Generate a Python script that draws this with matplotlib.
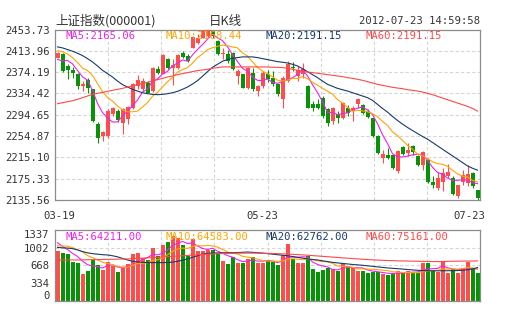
import numpy as np
import pandas as pd
import matplotlib
matplotlib.use('Agg')
import matplotlib.pyplot as plt

# 上证指数 日K 2012-03-19 ~ 2012-07-23 (85个交易日)
opens = [2401.3, 2407.6, 2385.7, 2377.6, 2370.1, 2348.3, 2358.9, 2342.0, 2276.5, 2254.7,
         2254.7, 2296.5, 2301.5, 2279.6, 2285.9, 2307.7, 2348.3, 2342.0, 2354.5, 2338.9,
         2379.5, 2371.4, 2398.2, 2381.4, 2381.4, 2410.7, 2404.4, 2420.0, 2429.4, 2438.8,
         2441.9, 2451.2, 2432.5, 2408.8, 2407.6, 2410.7, 2367.0, 2370.1, 2345.2, 2373.2,
         2338.9, 2348.3, 2370.1, 2363.9, 2351.4, 2323.3, 2357.7, 2383.9, 2367.0, 2370.1,
         2348.3, 2314.0, 2315.2, 2326.4, 2304.6, 2282.8, 2296.5, 2289.0, 2307.7, 2301.5,
         2315.2, 2312.7, 2300.2, 2287.8, 2254.7, 2214.1, 2220.4, 2220.4, 2189.2, 2234.1,
         2223.5, 2236.0, 2218.5, 2201.7, 2211.0, 2168.6, 2158.0, 2169.2, 2179.8, 2176.7,
         2142.4, 2169.2, 2167.3, 2186.1, 2153.6]
highs = [2412.6, 2410.7, 2390.1, 2383.9, 2373.2, 2357.7, 2363.9, 2343.3, 2280.9, 2264.1,
         2304.6, 2309.6, 2304.6, 2307.7, 2310.9, 2354.5, 2368.3, 2363.9, 2357.7, 2383.9,
         2385.7, 2407.6, 2401.3, 2398.2, 2407.6, 2413.8, 2407.6, 2441.9, 2445.0, 2453.7,
         2453.7, 2453.7, 2433.8, 2418.8, 2415.0, 2412.6, 2379.5, 2371.4, 2383.9, 2382.6,
         2350.2, 2376.4, 2377.6, 2376.4, 2352.6, 2367.0, 2395.1, 2393.2, 2385.7, 2392.0,
         2350.2, 2320.2, 2323.3, 2329.6, 2307.7, 2309.0, 2301.5, 2319.0, 2312.7, 2310.9,
         2326.4, 2315.2, 2304.6, 2289.0, 2256.6, 2229.7, 2232.9, 2221.6, 2229.7, 2236.0,
         2242.2, 2239.1, 2220.4, 2226.6, 2214.1, 2179.8, 2188.0, 2195.4, 2202.9, 2179.8,
         2164.2, 2192.3, 2201.7, 2187.3, 2154.9]
lows = [2400.1, 2375.1, 2360.8, 2363.9, 2342.0, 2338.9, 2335.8, 2281.5, 2241.0, 2245.3,
        2251.6, 2292.1, 2281.5, 2257.8, 2276.5, 2304.6, 2342.0, 2338.9, 2334.6, 2337.7,
        2370.1, 2370.1, 2379.5, 2350.2, 2379.5, 2401.3, 2393.8, 2418.8, 2426.3, 2437.5,
        2440.0, 2438.8, 2406.3, 2398.2, 2392.0, 2377.6, 2351.4, 2343.9, 2342.0, 2338.9,
        2329.6, 2345.2, 2356.4, 2348.3, 2329.6, 2307.7, 2356.4, 2376.4, 2357.7, 2363.9,
        2306.5, 2301.5, 2304.6, 2289.0, 2273.4, 2276.5, 2279.6, 2285.9, 2292.1, 2282.8,
        2307.7, 2296.5, 2289.0, 2252.8, 2221.6, 2204.8, 2212.9, 2194.2, 2186.1, 2220.4,
        2217.3, 2220.4, 2198.6, 2192.3, 2167.3, 2158.0, 2154.9, 2151.8, 2176.7, 2145.5,
        2139.3, 2164.2, 2161.1, 2158.0, 2136.2]
closes = [2410.7, 2376.4, 2377.6, 2373.2, 2348.3, 2351.4, 2345.2, 2282.8, 2251.6, 2262.8,
          2301.5, 2306.5, 2284.0, 2305.9, 2309.6, 2351.4, 2358.9, 2357.7, 2335.8, 2381.4,
          2373.2, 2406.3, 2381.4, 2387.6, 2406.3, 2402.6, 2395.1, 2440.0, 2438.8, 2451.2,
          2452.5, 2441.9, 2407.6, 2410.7, 2395.1, 2379.5, 2376.4, 2345.2, 2382.6, 2342.0,
          2348.3, 2373.2, 2360.8, 2351.4, 2332.7, 2363.9, 2390.1, 2381.4, 2377.6, 2379.5,
          2307.7, 2307.7, 2307.7, 2292.1, 2279.6, 2307.7, 2287.8, 2317.1, 2298.4, 2307.7,
          2323.3, 2298.4, 2290.3, 2254.7, 2223.5, 2221.6, 2214.1, 2195.4, 2226.6, 2221.6,
          2229.7, 2225.4, 2200.4, 2224.8, 2169.2, 2163.0, 2176.7, 2186.1, 2188.0, 2147.4,
          2163.0, 2182.9, 2184.2, 2161.1, 2139.3]
volumes = [939, 901, 888, 737, 718, 504, 561, 769, 674, 580,
           731, 655, 536, 611, 699, 888, 907, 800, 775, 1002,
           851, 1052, 1109, 1222, 1178, 1052, 844, 1166, 939, 939,
           958, 958, 895, 750, 699, 819, 718, 718, 781, 819,
           706, 718, 769, 737, 674, 863, 1071, 781, 718, 718,
           844, 599, 548, 580, 624, 592, 567, 706, 655, 611,
           567, 561, 517, 548, 548, 498, 485, 498, 567, 548,
           567, 517, 517, 706, 706, 580, 548, 750, 529, 592,
           517, 624, 737, 592, 517]
# 窗口之前几天, 只用来算 MA5/MA10
pre_closes = [2396, 2420, 2439, 2440, 2457, 2391, 2373, 2405, 2410]
pre_volumes = [960, 900, 1020, 1080, 950, 1250, 1180, 1100, 1010]

# MA20 / MA60 从图上读
ma20 = [2421.3, 2419.4, 2416.3, 2413.2, 2409.4, 2405.1, 2399.4, 2393.2, 2385.7, 2377.6,
        2371.4, 2365.1, 2357.6, 2350.8, 2346.4, 2342.1, 2338.9, 2335.8, 2333.9, 2332.7,
        2332.1, 2332.7, 2333.9, 2335.8, 2338.3, 2342.1, 2346.4, 2352.0, 2358.3, 2366.4,
        2375.1, 2383.2, 2388.8, 2394.5, 2397.6, 2400.1, 2401.3, 2402.6, 2402.6, 2402.6,
        2401.3, 2399.4, 2397.6, 2395.7, 2393.8, 2392.6, 2391.3, 2388.8, 2385.7, 2380.7,
        2375.1, 2369.5, 2363.9, 2357.6, 2351.4, 2347.7, 2343.9, 2341.4, 2338.9, 2335.8,
        2332.7, 2329.6, 2326.5, 2321.5, 2314.0, 2306.5, 2299.6, 2291.5, 2284.0, 2277.2,
        2270.9, 2265.3, 2259.7, 2254.1, 2249.1, 2242.9, 2236.6, 2230.4, 2224.1, 2217.9,
        2211.7, 2205.4, 2199.2, 2194.8, 2191.15]
ma60 = [2315.2, 2317.1, 2319.0, 2320.8, 2323.3, 2326.5, 2329.6, 2332.7, 2334.6, 2336.4,
        2338.3, 2340.2, 2342.1, 2343.9, 2346.4, 2348.3, 2350.8, 2353.3, 2355.2, 2357.6,
        2360.1, 2362.6, 2365.1, 2367.0, 2369.5, 2371.4, 2373.2, 2375.1, 2377.0, 2378.2,
        2379.5, 2381.4, 2382.6, 2383.9, 2383.9, 2383.9, 2383.9, 2383.9, 2383.9, 2383.9,
        2383.9, 2383.9, 2383.9, 2383.2, 2383.2, 2382.6, 2381.4, 2379.5, 2377.6, 2375.7,
        2374.5, 2373.2, 2372.0, 2370.8, 2369.5, 2368.3, 2367.0, 2365.8, 2363.9, 2362.6,
        2360.8, 2358.9, 2356.4, 2353.9, 2351.4, 2349.5, 2347.7, 2345.8, 2344.5, 2343.3,
        2341.4, 2340.2, 2338.9, 2337.1, 2334.6, 2332.1, 2329.0, 2325.8, 2322.7, 2319.6,
        2316.5, 2313.4, 2310.2, 2306.5, 2301.5]
vol_ma20 = [1008, 1000, 995, 985, 960, 930, 905, 890, 880, 870,
            865, 850, 830, 800, 770, 745, 735, 725, 720, 720,
            720, 720, 722, 730, 745, 765, 790, 820, 850, 880,
            895, 900, 903, 905, 907, 907, 910, 915, 920, 915,
            907, 900, 890, 880, 870, 860, 850, 835, 820, 805,
            790, 780, 770, 755, 740, 725, 715, 705, 695, 685,
            678, 670, 660, 650, 640, 630, 620, 612, 605, 598,
            590, 582, 575, 570, 567, 565, 565, 566, 567, 568,
            570, 575, 585, 600, 628]
vol_ma60 = [770, 770, 770, 770, 770, 772, 774, 776, 778, 780,
            782, 784, 786, 788, 790, 795, 800, 805, 810, 815,
            820, 826, 832, 838, 844, 850, 856, 862, 868, 874,
            880, 884, 888, 892, 895, 897, 899, 900, 900, 900,
            900, 898, 896, 893, 890, 886, 882, 877, 872, 866,
            860, 853, 846, 839, 832, 825, 818, 811, 804, 797,
            790, 784, 778, 773, 768, 764, 760, 757, 754, 752,
            750, 748, 746, 744, 742, 740, 740, 742, 744, 746,
            748, 749, 750, 751, 752]

price_ticks = [2135.56, 2175.33, 2215.10, 2254.87, 2294.65, 2334.42, 2374.19, 2413.96, 2453.73]
vol_ticks = [0, 334, 668, 1002, 1337]
date_labels = ['03-19', '05-23', '07-23']
ma_labels = ['MA5:2165.06', 'MA10:2168.44', 'MA20:2191.15', 'MA60:2191.15']
vma_labels = ['MA5:64211.00', 'MA10:64583.00', 'MA20:62762.00', 'MA60:75161.00']

RED = '#ff4d4d'
GREEN = '#079307'
C_MA5 = '#ee22ee'
C_MA10 = '#ffa500'
C_MA20 = '#173a6b'
C_MA60 = '#ff4848'
GRID = '#d6d6d6'
TXT = '#333333'
MONO = 'DejaVu Sans Mono'
ma_colors = [C_MA5, C_MA10, C_MA20, C_MA60]
LW = 0.8  # ~1px

n = len(closes)
x = np.arange(n)
o = np.array(opens); c = np.array(closes)
up = c >= o
colors = [RED if u else GREEN for u in up]

ma5 = pd.Series(pre_closes + closes).rolling(5).mean().values[len(pre_closes):]
ma10 = pd.Series(pre_closes + closes).rolling(10).mean().values[len(pre_closes):]
vma5 = pd.Series(pre_volumes + volumes).rolling(5).mean().values[len(pre_volumes):]
vma10 = pd.Series(pre_volumes + volumes).rolling(10).mean().values[len(pre_volumes):]

W, H = 505, 330
fig = plt.figure(figsize=(W / 100, H / 100), dpi=100)
ax = fig.add_axes([55 / W, 1 - 200 / H, 425 / W, 170.5 / H])
axv = fig.add_axes([55 / W, 1 - 300.7 / H, 425 / W, 70.7 / H])

for a in (ax, axv):
    a.set_xlim(-0.5, n - 0.5)
    for s in a.spines.values():
        s.set_color('#8c8c8c')
        s.set_linewidth(0.9)
    a.tick_params(length=0, pad=4, labelsize=7.6, labelcolor=TXT)
    a.set_xticks([])
    for i in range(1, 8):
        a.axvline(-0.5 + n * i / 8, color=GRID, lw=LW, ls=(0, (3, 2)), zorder=0)

# K线
ax.set_ylim(price_ticks[0], price_ticks[-1])
for t in price_ticks[1:-1]:
    ax.axhline(t, color=GRID, lw=LW, ls=(0, (3, 2)), zorder=0)
ax.vlines(x, lows, highs, colors=colors, lw=LW, zorder=2)
body_lo = np.minimum(o, c)
body_h = np.maximum(np.abs(c - o), 0.9)
ax.bar(x, body_h, bottom=body_lo, width=0.8, color=colors, linewidth=0, zorder=3)

ax.plot(x, ma5, color=C_MA5, lw=LW, zorder=4)
ax.plot(x, ma10, color=C_MA10, lw=LW, zorder=4)
ax.plot(x, ma20, color=C_MA20, lw=LW, zorder=4)
ax.plot(x, ma60, color=C_MA60, lw=LW, zorder=4)

ax.set_yticks(price_ticks)
ax.set_yticklabels(['%.2f' % t for t in price_ticks], family=MONO)

for i, (s, col) in enumerate(zip(ma_labels, ma_colors)):
    fig.text((65 + 100 * i) / W, 1 - 36 / H, s, color=col, fontsize=7.6, family=MONO,
             va='center', zorder=6)

# 成交量
axv.set_ylim(0, vol_ticks[-1])
for t in vol_ticks[1:-1]:
    axv.axhline(t, color=GRID, lw=LW, ls=(0, (3, 2)), zorder=0)
axv.bar(x, volumes, width=0.8, color=colors, linewidth=0, zorder=2)
axv.plot(x, vma5, color=C_MA5, lw=LW, zorder=4)
axv.plot(x, vma10, color=C_MA10, lw=LW, zorder=4)
axv.plot(x, vol_ma20, color=C_MA20, lw=LW, zorder=4)
axv.plot(x, vol_ma60, color=C_MA60, lw=LW, zorder=4)
axv.set_yticks(vol_ticks)
axv.set_yticklabels([str(t) for t in vol_ticks], family=MONO)
labs = axv.get_yticklabels()
labs[0].set_va('bottom')
labs[-1].set_va('top')

for i, (s, col) in enumerate(zip(vma_labels, ma_colors)):
    fig.text((65 + 100 * i) / W, 1 - 236.5 / H, s, color=col, fontsize=7.6, family=MONO,
             va='center', zorder=6)

# 日期
for lab, xp in zip(date_labels, [59, 262, 469]):
    fig.text(xp / W, 1 - 216 / H, lab, color=TXT, fontsize=7.6, family=MONO,
             ha='center', va='center')

# 标题行
fig.text(55 / W, 1 - 21 / H, '上证指数(000001)', color=TXT, fontsize=9,
         family=['Noto Sans CJK SC', 'DejaVu Sans'], va='center')
fig.text(225 / W, 1 - 21 / H, '日K线', color=TXT, fontsize=9,
         family=['Noto Sans CJK SC', 'DejaVu Sans'], va='center', ha='center')
fig.text(480 / W, 1 - 21.5 / H, '2012-07-23 14:59:58', color=TXT, fontsize=7.6,
         family=MONO, va='center', ha='right')

fig.savefig('out.png', dpi=100, facecolor='white')
